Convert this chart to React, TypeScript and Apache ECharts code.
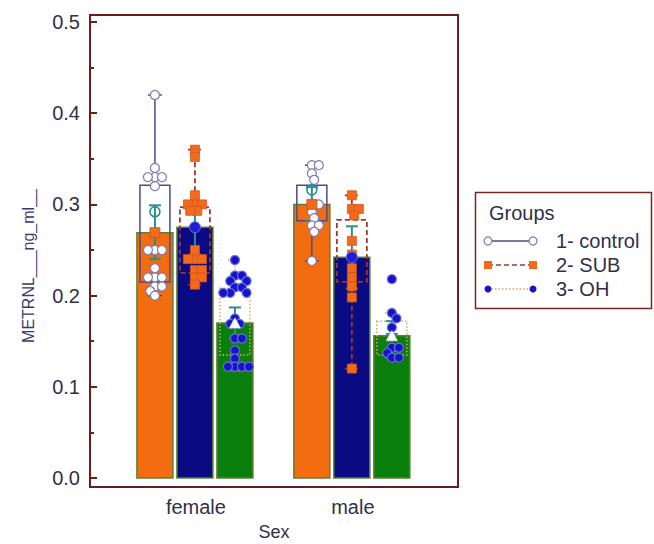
import React, { useEffect, useRef } from 'react';
import * as echarts from 'echarts';

// Categories and groups
const categories = ['female', 'male'];
const groupNames = ['1- control', '2- SUB', '3- OH'];

// Bar heights (group means) per category
const controlMean = [0.269, 0.3];
const subMean = [0.275, 0.242];
const ohMean = [0.17, 0.156];

// Box statistics per category: [min, Q1, Q3, max]
const controlBox = [[0.2, 0.215, 0.321, 0.42], [0.238, 0.282, 0.321, 0.343]];
const subBox = [[0.212, 0.225, 0.297, 0.36], [0.12, 0.215, 0.283, 0.31]];
const ohBox = [[0.118, 0.135, 0.208, 0.239], [0.132, 0.135, 0.172, 0.181]];

// Error bars per category: [low, high]
const controlErr = [[0.24, 0.299], [0.282, 0.319]];
const subErr = [[0.245, 0.296], [0.208, 0.276]];
const ohErr = [[0.153, 0.187], [0.158, 0.172]];

// Open marker on the control error bar
const controlMid = [0.292, 0.316];

// Individual measurements
const controlFemale = [0.42, 0.34, 0.33, 0.33, 0.33, 0.32, 0.25, 0.25, 0.25, 0.23, 0.22, 0.22, 0.22, 0.21, 0.21, 0.205, 0.2];
const controlMale = [0.343, 0.343, 0.334, 0.327, 0.3, 0.3, 0.292, 0.285, 0.277, 0.277, 0.27, 0.238];
const subFemale = [0.36, 0.352, 0.31, 0.3, 0.3, 0.3, 0.293, 0.293, 0.25, 0.24, 0.24, 0.24, 0.228, 0.228, 0.22, 0.22, 0.212];
const subMale = [0.31, 0.295, 0.295, 0.288, 0.26, 0.245, 0.23, 0.22, 0.21, 0.198, 0.12];
const ohFemale = [0.239, 0.222, 0.222, 0.216, 0.216, 0.209, 0.209, 0.203, 0.203, 0.203, 0.175, 0.169, 0.169, 0.153, 0.153, 0.14, 0.131, 0.122, 0.122, 0.122, 0.122];
const ohMale = [0.218, 0.181, 0.175, 0.165, 0.143, 0.143, 0.137, 0.132, 0.132];

// Axis ticks
const yTicks = [0, 0.1, 0.2, 0.3, 0.4, 0.5];
const yMinorTicks = [0.05, 0.15, 0.25, 0.35, 0.45];
const xTicks = [1, 2];

const groupMeans = [controlMean, subMean, ohMean];
const groupBoxes = [controlBox, subBox, ohBox];
const groupErrs = [controlErr, subErr, ohErr];
const groupPoints = [[controlFemale, controlMale], [subFemale, subMale], [ohFemale, ohMale]];

// Layout / style
const groupOffset = [-0.2613, -0.0064, 0.2485];
const BAR_W = 36;
const BOX_W = 30;
const CAP_W = 14;
const ERR_CAP = 12;
const DOT = 7;
const FONT = "'Liberation Sans', Arial, sans-serif";
const FRAME = '#6b1d1d';
const TEXT = '#30304a';
const barFill = ['#f46c10', '#0a0a82', '#0b7f0e'];
const barStroke = '#5f7f30';
const boxColor = ['#4b4b8c', '#9c3a2a', '#d9a468'];
const boxDash: (number[] | null)[] = [null, [5, 3], [1.5, 2]];
const boxWidth = [1.5, 1.8, 1.5];
const TEAL = '#2a8f8f';

// one entry per (group, category): [x, mean, group, category]
const items: number[][] = [];
groupNames.forEach((_, g) => {
  categories.forEach((__, c) => {
    items.push([xTicks[c] + groupOffset[g], groupMeans[g][c], g, c]);
  });
});

// beeswarm placement in pixel space
function swarm(ys: number[], cx: number, d: number): number[] {
  const xs: number[] = new Array(ys.length).fill(cx);
  const placed: { x: number; y: number }[] = [];
  const order = ys.map((_, i) => i).sort((a, b) => ys[a] - ys[b]);
  const step = d / 3;
  for (const i of order) {
    const y = ys[i];
    for (let k = 0; k < 60; k++) {
      const m = Math.ceil(k / 2);
      const off = k === 0 ? 0 : (k % 2 === 1 ? m : -m) * step;
      const x = cx + off;
      const ok = placed.every((p) => (p.x - x) ** 2 + (p.y - y) ** 2 >= d * d * 0.85);
      if (ok) {
        xs[i] = x;
        placed.push({ x, y });
        break;
      }
    }
  }
  return xs;
}

function pointMarker(g: number, x: number, y: number) {
  if (g === 1) {
    return {
      type: 'rect',
      shape: { x: x - 4.5, y: y - 4.5, width: 9, height: 9 },
      style: { fill: '#f26a1b', stroke: '#d9561a', lineWidth: 0.8 },
    };
  }
  if (g === 0) {
    return {
      type: 'circle',
      shape: { cx: x, cy: y, r: 4.5 },
      style: { fill: '#ffffff', stroke: '#7b7bb0', lineWidth: 1.2 },
    };
  }
  return {
    type: 'circle',
    shape: { cx: x, cy: y, r: 4.5 },
    style: { fill: '#1414c8', stroke: '#6b6bdc', lineWidth: 1.2 },
  };
}

function meanMarker(g: number, x: number, y: number) {
  if (g === 0) {
    return {
      type: 'rect',
      shape: { x: x - 5, y: y - 5, width: 10, height: 10 },
      style: { fill: '#f26a1b', stroke: '#c9531a', lineWidth: 0.8 },
    };
  }
  if (g === 1) {
    return {
      type: 'circle',
      shape: { cx: x, cy: y, r: 5.5 },
      style: { fill: '#1e1ed2', stroke: '#6b6bdc', lineWidth: 1 },
    };
  }
  return {
    type: 'polygon',
    shape: { points: [[x, y - 5], [x - 5.5, y + 5], [x + 5.5, y + 5]] },
    style: { fill: '#ffffff', stroke: '#e8e8ff', lineWidth: 0.8 },
  };
}

function layer(name: string, z: number, draw: (api: any, x: number, mean: number, g: number, c: number) => any) {
  return {
    type: 'custom',
    name,
    z,
    silent: true,
    data: items,
    encode: { x: 0, y: 1 },
    renderItem: (_params: any, api: any) =>
      draw(api, api.value(0), api.value(1), api.value(2), api.value(3)),
  };
}

const bars = layer('bars', 2, (api, x, mean, g) => {
  const [cx, top] = api.coord([x, mean]);
  const base = api.coord([x, 0])[1];
  return {
    type: 'rect',
    shape: { x: cx - BAR_W / 2, y: top, width: BAR_W, height: base - top },
    style: { fill: barFill[g], stroke: barStroke, lineWidth: 1.5 },
  };
});

const boxes = layer('boxes', 3, (api, x, _m, g, c) => {
  const [mn, q1, q3, mx] = groupBoxes[g][c];
  const cx = api.coord([x, 0])[0];
  const yMin = api.coord([x, mn])[1];
  const yQ1 = api.coord([x, q1])[1];
  const yQ3 = api.coord([x, q3])[1];
  const yMax = api.coord([x, mx])[1];
  const st = { stroke: boxColor[g], lineWidth: boxWidth[g], lineDash: boxDash[g] || undefined, fill: 'none' };
  const line = (x1: number, y1: number, x2: number, y2: number) => ({
    type: 'line',
    shape: { x1, y1, x2, y2 },
    style: st,
  });
  return {
    type: 'group',
    children: [
      { type: 'rect', shape: { x: cx - BOX_W / 2, y: yQ3, width: BOX_W, height: yQ1 - yQ3 }, style: st },
      line(cx, yQ3, cx, yMax),
      line(cx, yQ1, cx, yMin),
      line(cx - CAP_W / 2, yMax, cx + CAP_W / 2, yMax),
      line(cx - CAP_W / 2, yMin, cx + CAP_W / 2, yMin),
    ],
  };
});

const errs = layer('errors', 4, (api, x, _m, g, c) => {
  const [lo, hi] = groupErrs[g][c];
  const cx = api.coord([x, 0])[0];
  const yLo = api.coord([x, lo])[1];
  const yHi = api.coord([x, hi])[1];
  const st = { stroke: TEAL, lineWidth: 2 };
  const children: any[] = [
    { type: 'line', shape: { x1: cx, y1: yLo, x2: cx, y2: yHi }, style: st },
    { type: 'line', shape: { x1: cx - ERR_CAP / 2, y1: yHi, x2: cx + ERR_CAP / 2, y2: yHi }, style: st },
    { type: 'line', shape: { x1: cx - ERR_CAP / 2, y1: yLo, x2: cx + ERR_CAP / 2, y2: yLo }, style: st },
  ];
  return { type: 'group', children };
});

const points = layer('points', 5, (api, x, _m, g, c) => {
  const vals = groupPoints[g][c];
  const cx = api.coord([x, 0])[0];
  const ys = vals.map((v) => api.coord([x, v])[1]);
  const xs = swarm(ys, cx, DOT);
  return { type: 'group', children: vals.map((_, k) => pointMarker(g, xs[k], ys[k])) };
});

const means = layer('means', 6, (api, x, mean, g, c) => {
  const [cx, cy] = api.coord([x, mean]);
  const children: any[] = [meanMarker(g, cx, cy)];
  if (g === 0) {
    const my = api.coord([x, controlMid[c]])[1];
    children.push({
      type: 'circle',
      shape: { cx, cy: my, r: 5 },
      style: { fill: 'none', stroke: TEAL, lineWidth: 1.6 },
    });
  }
  return { type: 'group', children };
});

// legend drawn as graphic
const legendRows = [241, 265, 289];
function legendSample(g: number, y: number) {
  const x1 = 488;
  const x2 = 533;
  const els: any[] = [
    {
      type: 'line',
      shape: { x1, y1: y, x2, y2: y },
      style: { stroke: boxColor[g], lineWidth: 1.5, lineDash: boxDash[g] || undefined },
    },
  ];
  [x1, x2].forEach((x) => {
    if (g === 0) {
      els.push({ type: 'circle', shape: { cx: x, cy: y, r: 4 }, style: { fill: '#fff', stroke: '#7b7bb0', lineWidth: 1.2 } });
    } else if (g === 1) {
      els.push({ type: 'rect', shape: { x: x - 4, y: y - 4, width: 8, height: 8 }, style: { fill: '#f26a1b' } });
    } else {
      els.push({ type: 'circle', shape: { cx: x, cy: y, r: 3.5 }, style: { fill: '#1414c8' } });
    }
  });
  return els;
}

const legendGraphic: any[] = [
  {
    type: 'rect',
    shape: { x: 475.5, y: 192.5, width: 176, height: 116 },
    style: { fill: '#ffffff', stroke: '#7a2323', lineWidth: 1.5 },
  },
  {
    type: 'text',
    x: 489,
    y: 213,
    style: { text: 'Groups', font: `20px ${FONT}`, fill: TEXT, verticalAlign: 'middle' },
  },
];
groupNames.forEach((name, g) => {
  legendGraphic.push(...legendSample(g, legendRows[g]));
  legendGraphic.push({
    type: 'text',
    x: 556,
    y: legendRows[g],
    style: { text: name, font: `20px ${FONT}`, fill: TEXT, verticalAlign: 'middle' },
  });
});

const Y_MIN = -0.00987;
const Y_MAX = 0.50768;

export default function App() {
  const ref = useRef<HTMLDivElement>(null);
  useEffect(() => {
    if (!ref.current) return;
    const chart = echarts.init(ref.current, undefined, { renderer: 'svg' });
    chart.setOption({
      animation: false,
      backgroundColor: '#ffffff',
      grid: {
        left: 90,
        top: 15,
        width: 368,
        height: 472,
        outerBoundsMode: 'none',
        containLabel: false,
        show: true,
        borderColor: FRAME,
        borderWidth: 2,
        backgroundColor: 'transparent',
      },
      xAxis: {
        type: 'value',
        min: 0.325,
        max: 2.67,
        name: 'Sex',
        nameLocation: 'middle',
        nameGap: 36,
        nameTextStyle: { fontFamily: FONT, fontSize: 18, lineHeight: 18, color: TEXT },
        axisLine: { show: false },
        splitLine: { show: false },
        axisTick: { show: true, inside: true, length: 7, customValues: xTicks, lineStyle: { color: FRAME, width: 2 } },
        axisLabel: {
          customValues: xTicks,
          margin: 10,
          fontFamily: FONT,
          fontSize: 20,
          color: TEXT,
          formatter: (v: number) => categories[Math.round(v) - 1] ?? '',
        },
      },
      yAxis: [
        {
          type: 'value',
          min: Y_MIN,
          max: Y_MAX,
          axisLine: { show: false },
          splitLine: { show: false },
          axisTick: { show: true, inside: true, length: 7, customValues: yTicks, lineStyle: { color: FRAME, width: 2 } },
          axisLabel: {
            customValues: yTicks,
            margin: 10,
            fontFamily: FONT,
            fontSize: 20,
            color: TEXT,
            formatter: (v: number) => v.toFixed(1),
          },
        },
        {
          type: 'value',
          min: Y_MIN,
          max: Y_MAX,
          position: 'left',
          axisLine: { show: false },
          splitLine: { show: false },
          axisTick: { show: true, inside: true, length: 4, customValues: yMinorTicks, lineStyle: { color: FRAME, width: 2 } },
          axisLabel: { show: false },
        },
      ],
      graphic: [
        {
          type: 'text',
          x: 28,
          y: 266,
          rotation: Math.PI / 2,
          style: {
            text: 'METRNL___ng_ml__',
            font: `16px ${FONT}`,
            fill: '#3a3a72',
            align: 'center',
            verticalAlign: 'middle',
          },
        },
        ...legendGraphic,
      ],
      series: [bars, boxes, errs, points, means],
    });
    return () => chart.dispose();
  }, []);
  return <div ref={ref} style={{ position: 'fixed', left: 0, top: 0, width: 654, height: 544 }} />;
}
